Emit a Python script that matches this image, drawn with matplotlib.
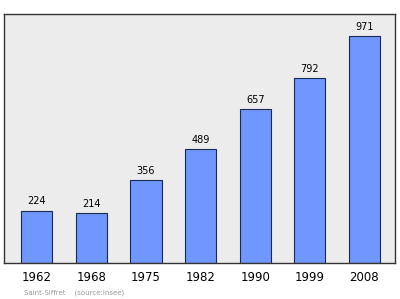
import matplotlib
matplotlib.use("Agg")
import matplotlib.pyplot as plt

years = ["1962", "1968", "1975", "1982", "1990", "1999", "2008"]
population = [224, 214, 356, 489, 657, 792, 971]

fig = plt.figure(figsize=(4.0, 2.99), dpi=100)
ax = fig.add_axes([4/400, 1 - 263/299, 391/400, 249/299])
ax.set_facecolor("#ececec")
x = list(range(len(years)))
bars = ax.bar(x, population, width=0.57, color="#7096ff", edgecolor="#1a2a55", linewidth=0.8)
for xi, v in zip(x, population):
    ax.annotate(str(v), (xi, v), xytext=(0, 3), textcoords="offset points",
                ha="center", va="bottom", fontsize=7, color="black")
ax.set_xlim(-0.6, 6.56)
ax.set_ylim(0, 1065)
ax.set_yticks([])
ax.set_xticks(x)
ax.set_xticklabels(years, fontsize=8.5)
ax.tick_params(axis="x", length=0, pad=6)
for s in ax.spines.values():
    s.set_color("#333333")
    s.set_linewidth(1.0)
fig.text(24/400, 1 - 293/299, "Saint-Siffret    (source:Insee)", fontsize=5, color="#999999",
         ha="left", va="center")
fig.savefig("out.png", dpi=100)
